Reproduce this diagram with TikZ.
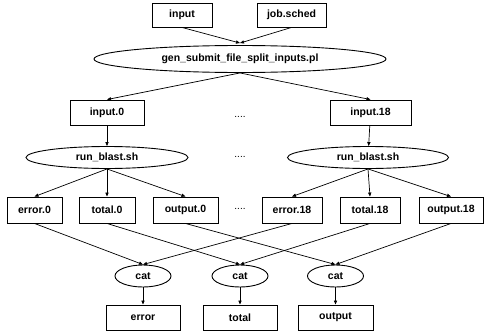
\documentclass[tikz,border=0pt]{standalone}
\usepackage{fontspec}
\setmainfont{Liberation Sans}
\usetikzlibrary{arrows.meta,shapes.geometric}
\begin{document}
\begin{tikzpicture}[x=1pt,y=1pt,
  every node/.style={font=\fontsize{10.5}{12}\selectfont\bfseries, inner sep=0pt},
  filebox/.style={draw, line width=0.9pt, rectangle},
  proc/.style={draw, line width=0.9pt, ellipse},
  dotsnode/.style={anchor=base, font=\fontsize{10}{12}\selectfont},
  arr/.style={line width=0.7pt, -{Triangle[length=4pt,width=3.2pt]}},
  ln/.style={line width=0.7pt}]
\useasboundingbox (0,0) rectangle (484,333);
% top inputs
\node[filebox, minimum width=60pt, minimum height=24pt] (in) at (182,318) {input};
\node[filebox, minimum width=69pt, minimum height=24pt] (job) at (291.5,318) {job.sched};
\node[proc, minimum width=292pt, minimum height=27pt] (gen) at (240,274) {gen\_submit\_file\_split\_inputs.pl};
% split inputs
\node[filebox, minimum width=74pt, minimum height=25pt] (in0) at (107,220.5) {input.0};
\node[filebox, minimum width=81pt, minimum height=25pt] (in18) at (370.5,220.5) {input.18};
\node[dotsnode] (d1) at (240,216) {....};
% blast
\node[proc, minimum width=162pt, minimum height=22pt] (rb0) at (107,175.5) {run\_blast.sh};
\node[proc, minimum width=161pt, minimum height=22pt] (rb18) at (368,175.5) {run\_blast.sh};
\node[dotsnode] (d2) at (240,176) {....};
% outputs per job
\node[filebox, minimum width=55pt, minimum height=26pt] (e0) at (34.5,123) {error.0};
\node[filebox, minimum width=56pt, minimum height=26pt] (t0) at (107,123) {total.0};
\node[filebox, minimum width=65pt, minimum height=26pt] (o0) at (185.5,123) {output.0};
\node[dotsnode] (d3) at (240,124) {....};
\node[filebox, minimum width=60pt, minimum height=26pt] (e18) at (292,123) {error.18};
\node[filebox, minimum width=60pt, minimum height=26pt] (t18) at (370,123) {total.18};
\node[filebox, minimum width=64pt, minimum height=26pt] (o18) at (451,123) {output.18};
% cat
\node[proc, minimum width=56pt, minimum height=22pt] (c1) at (143,57) {cat};
\node[proc, minimum width=56pt, minimum height=22pt] (c2) at (240,57) {cat};
\node[proc, minimum width=56pt, minimum height=22pt] (c3) at (335.5,57) {cat};
% final
\node[filebox, minimum width=74pt, minimum height=25pt] (err) at (143,15.5) {error};
\node[filebox, minimum width=74pt, minimum height=25pt] (tot) at (240,15.5) {total};
\node[filebox, minimum width=75pt, minimum height=25pt] (out) at (335.5,15.5) {output};
% edges
\draw[arr] (in.south) -- ([yshift=2pt]gen.north);
\draw[arr] (job.south) -- ([yshift=2pt]gen.north);
\draw[arr] (gen.south) -- (in0.north);
\draw[arr] (gen.south) -- (in18.north);
\draw[arr] (in0) -- (rb0);
\draw[arr] (in18) -- (rb18);
\foreach \t in {e0,t0,o0} \draw[arr] (rb0.south) -- (\t.north);
\foreach \t in {e18,t18,o18} \draw[arr] (rb18.south) -- (\t.north);
\draw[arr] (e0.south) -- (c1.north);
\draw[arr] (e18.south) -- (c1.north);
\draw[arr] (t0.south) -- (c2.north);
\draw[arr] (t18.south) -- (c2.north);
\draw[arr] (o0.south) -- (c3.north);
\draw[arr] (o18.south) -- (c3.north);
\draw[arr] (c1) -- (err);
\draw[arr] (c2) -- (tot);
\draw[arr] (c3) -- (out);
\end{tikzpicture}
\end{document}
